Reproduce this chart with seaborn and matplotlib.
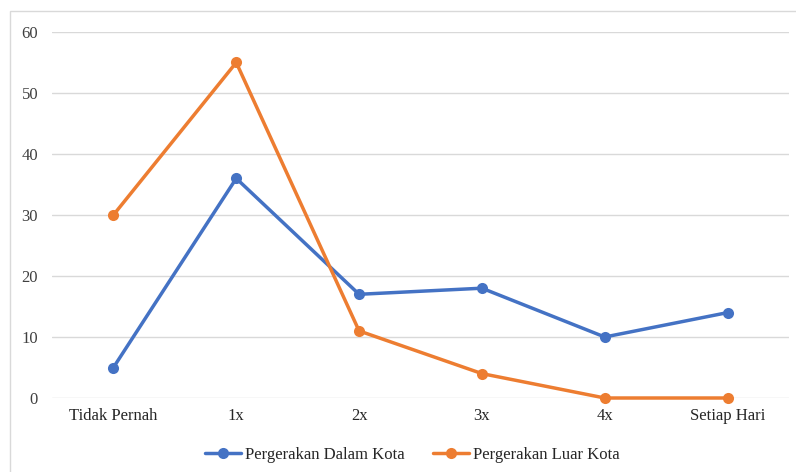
import matplotlib
matplotlib.use("Agg")
import matplotlib.pyplot as plt
import matplotlib.patches as mpatches
import seaborn as sns
import pandas as pd

categories = ["Tidak Pernah", "1x", "2x", "3x", "4x", "Setiap Hari"]
dalam_kota = [5, 36, 17, 18, 10, 14]
luar_kota = [30, 55, 11, 4, 0, 0]
series_names = ["Pergerakan Dalam Kota", "Pergerakan Luar Kota"]
y_ticks = [0, 10, 20, 30, 40, 50, 60]

df = pd.DataFrame({
    "kategori": categories * 2,
    "pos": list(range(len(categories))) * 2,
    "nilai": dalam_kota + luar_kota,
    "seri": [series_names[0]] * len(categories) + [series_names[1]] * len(categories),
})

sns.set_theme(style="white")
plt.rcParams["font.family"] = ["Liberation Serif", "DejaVu Serif"]

fig = plt.figure(figsize=(7.96, 4.72), dpi=100)
ax = fig.add_axes([52 / 796, 74 / 472, 737 / 796, 366 / 472])

# chart frame (only left and top edges fall inside the canvas)
frame = mpatches.Rectangle((10 / 796, -0.1), 1.2, (461 / 472) + 0.1,
                           transform=fig.transFigure, fill=False,
                           edgecolor="#D9D9D9", linewidth=1.0, zorder=0)
fig.patches.append(frame)

palette = {series_names[0]: "#4472C4", series_names[1]: "#ED7D31"}
sns.lineplot(data=df, x="pos", y="nilai", hue="seri", palette=palette,
             marker="o", markersize=8, markeredgewidth=0, linewidth=2.5,
             ax=ax, legend=False)
for line in ax.lines:
    line.set_clip_on(False)

ax.set_xlim(-0.5, len(categories) - 0.5)
ax.set_ylim(0, 60)
ax.set_yticks(y_ticks)
ax.set_yticklabels([str(t) for t in y_ticks], fontsize=12, color="#404040")
ax.set_xticks(range(len(categories)))
ax.set_xticklabels(categories, fontsize=12, color="#262626")
ax.tick_params(axis="both", length=0)
ax.tick_params(axis="y", pad=10)
ax.tick_params(axis="x", pad=7)
ax.set_xlabel("")
ax.set_ylabel("")
ax.grid(axis="y", color="#D9D9D9", linewidth=1.0)
ax.set_axisbelow(True)
for s in ["top", "right", "left", "bottom"]:
    ax.spines[s].set_visible(False)

handles = [plt.Line2D([], [], color=palette[n], marker="o", markersize=8,
                      markeredgewidth=0, linewidth=2.5) for n in series_names]
fig.legend(handles, series_names, loc="center", bbox_to_anchor=(412 / 796, 17 / 472),
           ncol=2, frameon=False, fontsize=12, handlelength=2.2,
           handletextpad=0.2, columnspacing=1.7)

fig.savefig("out.png", dpi=100)
